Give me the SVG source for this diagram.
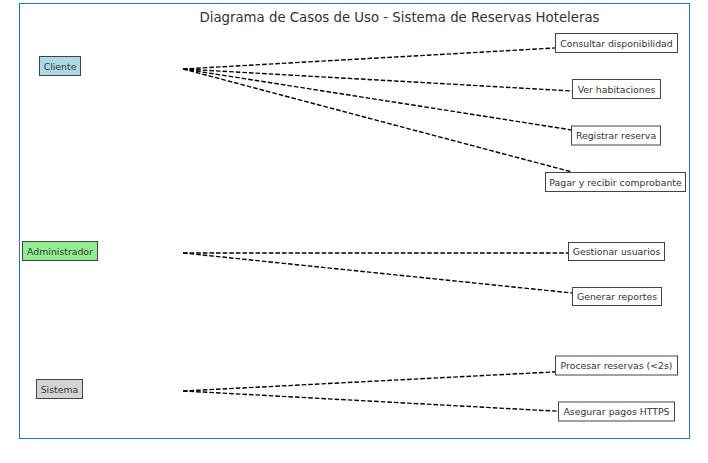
<svg xmlns="http://www.w3.org/2000/svg" width="708" height="463" viewBox="0 0 708 463">
<style>
  text { font-family: "DejaVu Sans", "Liberation Sans", sans-serif; }
  .title { font-size: 13.3px; fill: #333333; text-anchor: middle; }
  .lbl { font-size: 9.33px; fill: #333333; text-anchor: middle; dominant-baseline: central; }
  .uc { fill: #ffffff; stroke: #444444; stroke-width: 1; }
  .actor { stroke: #444444; stroke-width: 1; }
  .conn line { stroke: #000000; stroke-width: 1.4; stroke-dasharray: 4.6 2; fill: none; }
</style>
<rect x="0" y="0" width="708" height="463" fill="#ffffff"/>
<rect x="19.5" y="3.5" width="670" height="435" fill="none" stroke="#2a70d8" stroke-width="1"/>
<text class="title" x="399.5" y="21.5">Diagrama de Casos de Uso - Sistema de Reservas Hoteleras</text>
<g id="connectors" class="conn">
  <line x1="183" y1="69" x2="572" y2="47"/>
  <line x1="183" y1="69" x2="572" y2="91"/>
  <line x1="183" y1="69" x2="572" y2="130"/>
  <line x1="183" y1="69" x2="572" y2="172"/>
  <line x1="183" y1="253" x2="572" y2="253"/>
  <line x1="183" y1="253" x2="572" y2="293"/>
  <line x1="183" y1="391" x2="572" y2="371"/>
  <line x1="183" y1="391" x2="572" y2="412"/>
</g>
<g id="cliente">
  <rect class="actor" x="39.5" y="56.5" width="41" height="19" fill="#add8e6"/>
  <text class="lbl" x="60" y="66">Cliente</text>
</g>
<g id="administrador">
  <rect class="actor" x="22.5" y="241.5" width="75" height="19" fill="#90ee90"/>
  <text class="lbl" x="60" y="251">Administrador</text>
</g>
<g id="sistema">
  <rect class="actor" x="36.5" y="379.5" width="46" height="19" fill="#d3d3d3"/>
  <text class="lbl" x="59.5" y="389">Sistema</text>
</g>
<g id="uc-consultar">
  <rect class="uc" x="555.5" y="33.5" width="122" height="19"/>
  <text class="lbl" x="616.5" y="43">Consultar disponibilidad</text>
</g>
<g id="uc-ver">
  <rect class="uc" x="572.5" y="79.5" width="88" height="19"/>
  <text class="lbl" x="616.5" y="89">Ver habitaciones</text>
</g>
<g id="uc-registrar">
  <rect class="uc" x="571.5" y="126" width="89" height="19"/>
  <text class="lbl" x="616" y="135.5">Registrar reserva</text>
</g>
<g id="uc-pagar">
  <rect class="uc" x="545.5" y="172.5" width="140" height="19"/>
  <text class="lbl" x="615.5" y="182">Pagar y recibir comprobante</text>
</g>
<g id="uc-gestionar">
  <rect class="uc" x="568.5" y="242.5" width="96" height="18"/>
  <text class="lbl" x="616.5" y="251.5">Gestionar usuarios</text>
</g>
<g id="uc-generar">
  <rect class="uc" x="572.5" y="287.5" width="89" height="18"/>
  <text class="lbl" x="617" y="296.5">Generar reportes</text>
</g>
<g id="uc-procesar">
  <rect class="uc" x="555.5" y="356" width="122" height="19"/>
  <text class="lbl" x="616.5" y="365.5">Procesar reservas (&lt;2s)</text>
</g>
<g id="uc-asegurar">
  <rect class="uc" x="558.5" y="402" width="116" height="19"/>
  <text class="lbl" x="616.5" y="411.5">Asegurar pagos HTTPS</text>
</g>
</svg>
